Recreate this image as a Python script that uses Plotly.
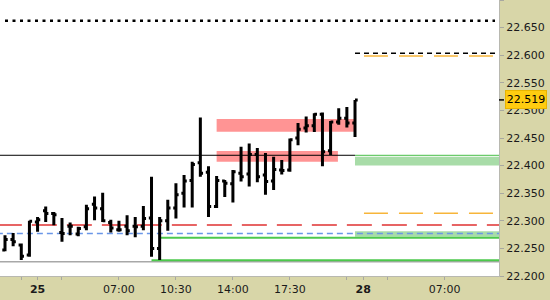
import plotly.graph_objects as go

# ---- data ----
bar_index = list(range(44))
opens = [22.247, 22.266, 22.256, 22.238, 22.298, 22.318, 22.313, 22.279, 22.290, 22.276,
         22.289, 22.330, 22.322, 22.297, 22.284, 22.290, 22.290, 22.290, 22.305, 22.250,
         22.300, 22.323, 22.350, 22.373, 22.405, 22.388, 22.326, 22.372, 22.367, 22.386,
         22.385, 22.420, 22.383, 22.372, 22.392, 22.392, 22.450, 22.468, 22.472, 22.493,
         22.427, 22.479, 22.486, 22.477]
highs = [22.274, 22.278, 22.259, 22.300, 22.307, 22.326, 22.316, 22.305, 22.297, 22.289,
         22.329, 22.344, 22.351, 22.302, 22.300, 22.310, 22.307, 22.327, 22.380, 22.307,
         22.338, 22.368, 22.383, 22.407, 22.487, 22.399, 22.381, 22.374, 22.392, 22.434,
         22.440, 22.432, 22.423, 22.416, 22.410, 22.449, 22.477, 22.489, 22.495, 22.496,
         22.481, 22.504, 22.506, 22.519]
lows = [22.245, 22.254, 22.229, 22.235, 22.280, 22.298, 22.292, 22.262, 22.274, 22.272,
        22.283, 22.301, 22.298, 22.279, 22.280, 22.274, 22.270, 22.283, 22.235, 22.229,
        22.282, 22.304, 22.324, 22.324, 22.380, 22.307, 22.323, 22.343, 22.333, 22.371,
        22.362, 22.370, 22.347, 22.356, 22.384, 22.389, 22.437, 22.460, 22.461, 22.399,
        22.419, 22.474, 22.469, 22.452]
closes = [22.266, 22.262, 22.236, 22.299, 22.302, 22.313, 22.311, 22.277, 22.290, 22.286,
          22.322, 22.323, 22.300, 22.287, 22.284, 22.282, 22.289, 22.304, 22.250, 22.300,
          22.323, 22.347, 22.372, 22.402, 22.386, 22.326, 22.373, 22.368, 22.389, 22.380,
          22.420, 22.380, 22.371, 22.393, 22.391, 22.447, 22.466, 22.472, 22.493, 22.425,
          22.479, 22.486, 22.477, 22.519]

x_tick_vals = [2, 4, 7, 14, 21, 28, 35, 42, 44, 47, 54]
x_tick_text = ["", "<b>25</b>", "", "07:00", "10:30", "14:00", "17:30", "", "<b>28</b>", "", "07:00"]
y_tick_vals = [22.20, 22.25, 22.30, 22.35, 22.40, 22.45, 22.50, 22.55, 22.60, 22.65, 22.70]
y_tick_text = ["22.200", "22.250", "22.300", "22.350", "22.400", "22.450", "22.500",
               "22.550", "22.600", "22.650", "22.700"]

last_price = 22.519
last_label = "22.519"

# horizontal levels: (x start index, x end index, price)
dotted_level = (0, 60.2, 22.6625)
black_dash_level = (43, 61, 22.6035)
orange_levels = [(44.1, 60.0, 22.5985), (44.1, 60.0, 22.3136)]
red_level = (-1, 61, 22.2924)
blue_level = (-1, 61, 22.2770)
gray_level = (-1, 61, 22.2260)
green_lines = [(18, 61, 22.2285), (19, 61, 22.2694)]
black_solid_level = (-1, 43, 22.4187)
light_green_line = (43, 61, 22.4187)
green_zones = [(43, 61, 22.271, 22.281), (43, 61, 22.400, 22.416)]
red_zones = [(26, 42.9, 22.4614, 22.4844), (26, 40.9, 22.4071, 22.4265)]

FONT = "DejaVu Sans"

fig = go.Figure()
fig.add_trace(go.Ohlc(
    x=bar_index, open=opens, high=highs, low=lows, close=closes,
    increasing=dict(line=dict(color="black", width=3)),
    decreasing=dict(line=dict(color="black", width=3)),
    tickwidth=0.33, showlegend=False, hoverinfo="skip",
))

shapes = []
for x0, x1, y0, y1 in red_zones:
    shapes.append(dict(type="rect", xref="x", yref="y", x0=x0, x1=x1, y0=y0, y1=y1,
                       fillcolor="#FF9494", line=dict(width=0), layer="below"))
for x0, x1, y0, y1 in green_zones:
    shapes.append(dict(type="rect", xref="x", yref="y", x0=x0, x1=x1, y0=y0, y1=y1,
                       fillcolor="#A8DCA8", line=dict(width=0), layer="below"))

def hline(level, color, width, dash="solid"):
    x0, x1, y = level
    return dict(type="line", xref="x", yref="y", x0=x0, x1=x1, y0=y, y1=y,
                line=dict(color=color, width=width, dash=dash), layer="below")

shapes.append(hline(gray_level, "#A8A8A8", 1.5))
shapes.append(hline(red_level, "#E03232", 1.5, "25px,10px"))
shapes.append(hline(blue_level, "#6A96E8", 1.5, "6px,4px"))
for lv in green_lines:
    shapes.append(hline(lv, "#4CC94C", 2))
for lv in orange_levels:
    shapes.append(hline(lv, "#F7B53A", 1.5, "24px,11px"))
shapes.append(hline(black_dash_level, "black", 1.5, "5px,4px"))
shapes.append(hline(dotted_level, "black", 2.5, "3px,4.5px"))
shapes.append(hline(black_solid_level, "black", 1))
shapes.append(hline(light_green_line, "#6CCB6C", 1.2))
# marker tick for last price on the axis
shapes.append(dict(type="line", xref="paper", yref="y", x0=1.0, x1=1.01,
                   y0=last_price, y1=last_price, line=dict(color="black", width=1.5)))

fig.update_layout(
    width=550, height=300,
    margin=dict(l=0, r=51, t=0, b=24),
    paper_bgcolor="#D8D6A8",
    plot_bgcolor="white",
    shapes=shapes,
    showlegend=False,
    font=dict(family=FONT, size=11, color="#1a1a1a"),
    xaxis=dict(
        range=[-0.614, 60.69], rangeslider=dict(visible=False),
        showgrid=False, zeroline=False,
        tickmode="array", tickvals=x_tick_vals, ticktext=x_tick_text,
        ticks="outside", ticklen=3, tickcolor="#A8A8A0",
        showline=True, linecolor="#B8B8B0", linewidth=1,
        tickfont=dict(family=FONT, size=11, color="#1a1a1a"),
    ),
    yaxis=dict(
        side="right", range=[22.2, 22.7],
        showgrid=False, zeroline=False,
        tickmode="array", tickvals=y_tick_vals, ticktext=y_tick_text,
        ticks="outside", ticklen=4, tickcolor="#A8A8A0",
        showline=True, linecolor="#B8B8B0", linewidth=1,
        tickfont=dict(family=FONT, size=11, color="#1a1a1a"),
    ),
    annotations=[dict(
        xref="paper", yref="y", x=1.0, y=last_price, xanchor="left", yanchor="middle",
        xshift=6, text=last_label, showarrow=False,
        font=dict(family=FONT, size=11, color="black"),
        bgcolor="#FFCC10", bordercolor="#E8B400", borderwidth=1, borderpad=1,
        width=38, height=15,
    )],
)

fig.write_html("out.html")
